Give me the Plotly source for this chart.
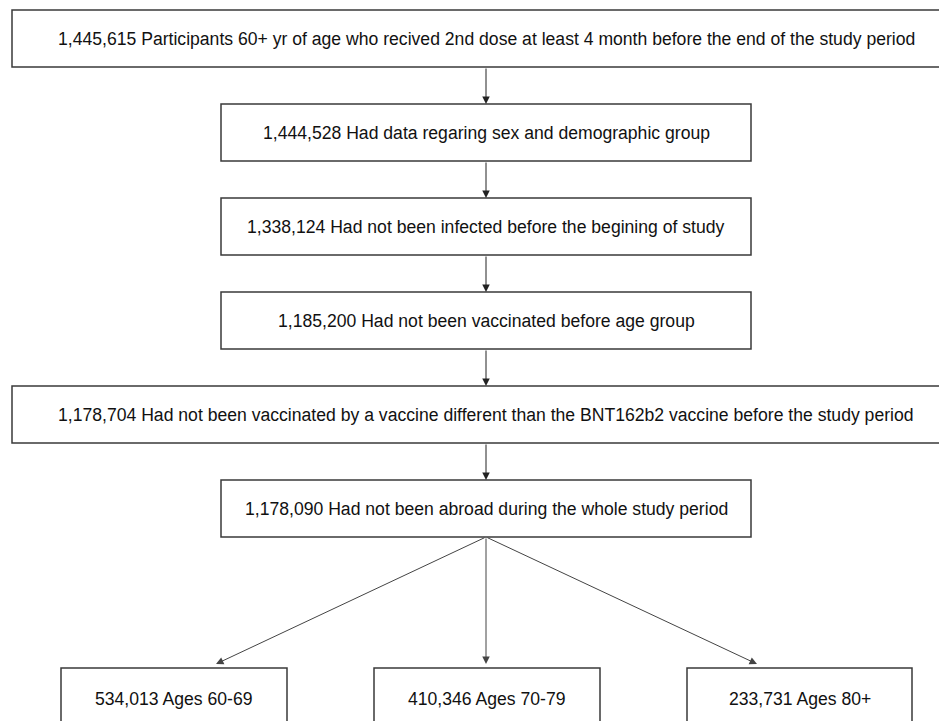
import plotly.graph_objects as go

# --- data: flow of participants ---
step_counts = [1445615, 1444528, 1338124, 1185200, 1178704, 1178090]
step_labels = [
    "Participants 60+ yr of age who recived 2nd dose at least 4 month before the end of the study period",
    "Had data regaring sex and demographic group",
    "Had not been infected before the begining of study",
    "Had not been vaccinated before age group",
    "Had not been vaccinated by a vaccine different than the BNT162b2 vaccine before the study period",
    "Had not been abroad during the whole study period",
]
age_counts = [534013, 410346, 233731]
age_labels = ["Ages 60-69", "Ages 70-79", "Ages 80+"]

# --- layout (screen pixel space, y downwards) ---
W, H = 955, 721
OFF = 8  # page body margin, so axis units line up with screen pixels
step_x = [(12, 965), (221, 751), (221, 751), (221, 751), (12, 965), (221, 751)]
step_top = [10, 104, 198, 292, 386, 480]
box_h = 57
age_x = [(61, 287), (374, 600), (687, 912)]
age_tips = [216, 486, 757]
age_top = 668
age_bottom = 745
center_x = 486

FONT = dict(family="Liberation Sans, Arial, sans-serif", size=17.6, color="#111111")
BOX_LINE = dict(color="#3a3a3a", width=1.5)

fig = go.Figure()
shapes, annots = [], []

for i, (cnt, lab) in enumerate(zip(step_counts, step_labels)):
    x0, x1 = step_x[i]
    y0 = step_top[i]
    shapes.append(dict(type="rect", x0=x0, x1=x1, y0=y0, y1=y0 + box_h,
                       line=BOX_LINE, fillcolor="white", layer="below"))
    annots.append(dict(x=center_x, y=y0 + box_h / 2, text=f"{cnt:,} {lab}",
                       showarrow=False, font=FONT, xanchor="center", yanchor="middle"))
    # arrow to next box
    if i < len(step_counts) - 1:
        annots.append(dict(x=center_x, y=step_top[i + 1], ax=center_x, ay=y0 + box_h,
                           xref="x", yref="y", axref="x", ayref="y", text="",
                           showarrow=True, arrowhead=2, arrowsize=1.5,
                           arrowwidth=1, arrowcolor="#222222"))

last_bottom = step_top[-1] + box_h
for (x0, x1), tip, cnt, lab in zip(age_x, age_tips, age_counts, age_labels):
    shapes.append(dict(type="rect", x0=x0, x1=x1, y0=age_top, y1=age_bottom,
                       line=BOX_LINE, fillcolor="white", layer="below"))
    annots.append(dict(x=(x0 + x1) / 2, y=699, text=f"{cnt:,} {lab}",
                       showarrow=False, font=FONT, xanchor="center", yanchor="middle"))
    annots.append(dict(x=tip, y=age_top - 4, ax=center_x, ay=last_bottom,
                       xref="x", yref="y", axref="x", ayref="y", text="",
                       showarrow=True, arrowhead=2, arrowsize=1.5,
                       arrowwidth=1, arrowcolor="#444444"))

fig.update_layout(
    width=W, height=H,
    margin=dict(l=0, r=0, t=0, b=0),
    paper_bgcolor="white", plot_bgcolor="white",
    xaxis=dict(range=[OFF, W + OFF], visible=False, fixedrange=True),
    yaxis=dict(range=[H + OFF, OFF], visible=False, fixedrange=True),
    shapes=shapes, annotations=annots,
    showlegend=False,
)

fig.write_html("out.html")
